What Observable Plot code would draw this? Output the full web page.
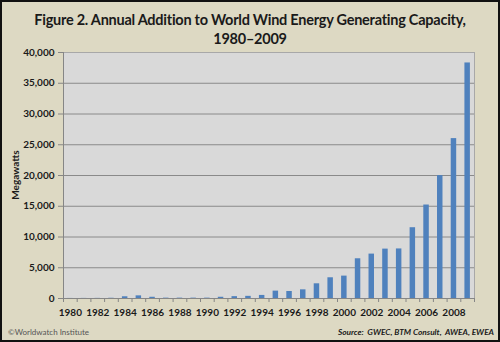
<!DOCTYPE html>
<html>
<head>
<meta charset="utf-8">
<script src="https://cdn.jsdelivr.net/npm/d3@7"></script>
<script src="https://cdn.jsdelivr.net/npm/@observablehq/plot@0.6"></script>
<style>
  html, body { margin: 0; padding: 0; background: #fff; }
  #card { position: relative; width: 500px; height: 342px; background: #ddd9c3; overflow: hidden; font-family: Lato, "Open Sans", sans-serif; color: #1a1a1a; }
  #border { position: absolute; left: 0; top: 0; width: 500px; height: 342px; box-sizing: border-box; border: 2px solid #111; pointer-events: none; }
  #title { position: absolute; left: 0; top: 10px; width: 500px; text-align: center; font-weight: bold; font-size: 14.5px; letter-spacing: -0.25px; line-height: 19px; }
  #chart { position: absolute; left: 0; top: 46px; }
  #ylabel { position: absolute; left: 15px; top: 175px; transform: translate(-50%, -50%) rotate(-90deg); font-size: 10px; font-weight: bold; white-space: nowrap; }
  #credit { position: absolute; left: 8px; top: 327px; font-size: 8px; color: #555; }
  #source { position: absolute; right: 6px; top: 327px; font-size: 8.3px; font-weight: bold; font-style: italic; }
</style>
</head>
<body>
<div id="card">
  <div id="title">Figure 2. Annual Addition to World Wind Energy Generating Capacity,<br>1980–2009</div>
  <div id="chart"></div>
  <div id="ylabel">Megawatts</div>
  <div id="credit">©Worldwatch Institute</div>
  <div id="source">Source:&nbsp; GWEC, BTM Consult,&nbsp; AWEA, EWEA</div>
  <div id="border"></div>
</div>
<script>
const years = [1980, 1981, 1982, 1983, 1984, 1985, 1986, 1987, 1988, 1989,
               1990, 1991, 1992, 1993, 1994, 1995, 1996, 1997, 1998, 1999,
               2000, 2001, 2002, 2003, 2004, 2005, 2006, 2007, 2008, 2009];
const megawatts = [10, 15, 20, 40, 280, 430, 200, 60, 60, 60,
                   60, 200, 300, 350, 500, 1200, 1140, 1410, 2390, 3370,
                   3640, 6460, 7220, 8030, 8060, 11510, 15200, 19980, 26000, 38300];
const yTicks = [0, 5000, 10000, 15000, 20000, 25000, 30000, 35000, 40000];
const xLabelYears = [1980, 1982, 1984, 1986, 1988, 1990, 1992, 1994, 1996, 1998, 2000, 2002, 2004, 2006, 2008];

const data = years.map((year, i) => ({year, value: megawatts[i]}));
const boundaries = [years[0] - 0.5, ...years.map(y => y + 0.5)];
const gridTicks = yTicks.filter(t => t > 0 && t < 40000);

const chart = Plot.plot({
  width: 500,
  height: 282,
  marginTop: 6,
  marginBottom: 30,
  marginLeft: 63,
  marginRight: 26,
  style: {background: "transparent", fontFamily: "Lato, 'Open Sans', sans-serif", color: "#1a1a1a", overflow: "visible"},
  x: {domain: [years[0] - 0.5, years[years.length - 1] + 0.5]},
  y: {domain: [0, 40000]},
  marks: [
    Plot.frame({fill: "#d9d9d9", stroke: "#a8a8a8"}),
    Plot.gridY(gridTicks, {stroke: "#8a8a8a", strokeOpacity: 1, strokeWidth: 1}),
    Plot.rectY(data, {x1: d => d.year - 0.2, x2: d => d.year + 0.2, y: "value", fill: "#4f81bd"}),
    Plot.ruleX([years[0] - 0.5], {stroke: "#868686"}),
    Plot.ruleY([0], {stroke: "#868686"}),
    Plot.axisY(yTicks, {tickSize: 5, tickPadding: 4, tickFormat: d3.format(","), label: null, stroke: "#868686", fontWeight: "bold", fontSize: 10, fill: "#1a1a1a"}),
    Plot.axisX(boundaries, {tickSize: 4, tickFormat: () => "", label: null, stroke: "#868686"}),
    Plot.axisX(xLabelYears, {tickSize: 0, tickPadding: 10, tickFormat: d => String(d), label: null, fontWeight: "bold", fontSize: 10, fill: "#1a1a1a"})
  ]
});
document.getElementById("chart").appendChild(chart);
</script>
</body>
</html>
